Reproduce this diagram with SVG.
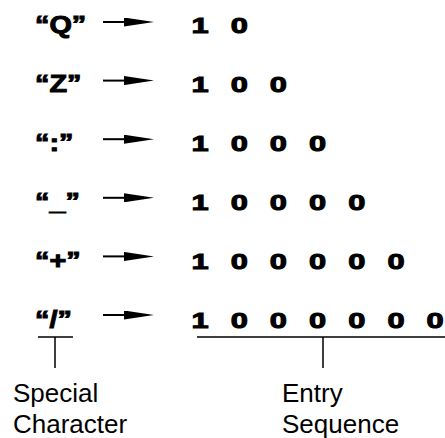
<svg xmlns="http://www.w3.org/2000/svg" width="445" height="438" viewBox="0 0 445 438">
<style>
.b{font-family:"Liberation Sans",Arial,sans-serif;font-weight:bold;font-size:22px;fill:#000;stroke:#000;stroke-width:1}
.q{font-size:24px}
.d{text-anchor:middle}
.cap{font-family:"Liberation Sans",Arial,sans-serif;font-size:26px;fill:#000}
.arr{stroke:#000;stroke-width:2;fill:none;marker-end:url(#ah)}
.ln{stroke:#000;stroke-width:1.5;fill:none}
</style>
<defs>
<marker id="ah" markerUnits="userSpaceOnUse" markerWidth="30" markerHeight="9" refX="6" refY="4.5" orient="auto">
<path d="M0,0 L30,4.5 L0,9 Z" fill="#000"/>
</marker>
</defs>
<rect width="445" height="438" fill="#fff"/>
<g id="row1">
<g transform="translate(35,33) scale(1.2,1)"><text class="b q" x="0" y="0">&#8220;Q&#8221;</text></g>
<g transform="translate(0,33) scale(1.4,1)"><text class="b d" x="142.86 170.86" y="0">10</text></g>
</g>
<g id="row2">
<g transform="translate(35,92) scale(1.2,1)"><text class="b q" x="0" y="0">&#8220;Z&#8221;</text></g>
<g transform="translate(0,92) scale(1.4,1)"><text class="b d" x="142.86 170.86 198.86" y="0">100</text></g>
</g>
<g id="row3">
<g transform="translate(35,151) scale(1.2,1)"><text class="b q" x="0" y="0">&#8220;:&#8221;</text></g>
<g transform="translate(0,151) scale(1.4,1)"><text class="b d" x="142.86 170.86 198.86 226.86" y="0">1000</text></g>
</g>
<g id="row4">
<g transform="translate(35,210) scale(1.2,1)"><text class="b q" x="0" y="0">&#8220;_&#8221;</text></g>
<g transform="translate(0,210) scale(1.4,1)"><text class="b d" x="142.86 170.86 198.86 226.86 254.86" y="0">10000</text></g>
</g>
<g id="row5">
<g transform="translate(35,269) scale(1.2,1)"><text class="b q" x="0" y="0">&#8220;+&#8221;</text></g>
<g transform="translate(0,269) scale(1.4,1)"><text class="b d" x="142.86 170.86 198.86 226.86 254.86 282.86" y="0">100000</text></g>
</g>
<g id="row6">
<g transform="translate(35,328) scale(1.2,1)"><text class="b q" x="0" y="0">&#8220;/&#8221;</text></g>
<g transform="translate(0,328) scale(1.4,1)"><text class="b d" x="142.86 170.86 198.86 226.86 254.86 282.86 310.86" y="0">1000000</text></g>
</g>
<g id="connectors">
<line class="arr" x1="103" y1="22" x2="130" y2="22"/>
<line class="arr" x1="103" y1="80.6" x2="130" y2="80.6"/>
<line class="arr" x1="103" y1="139.2" x2="130" y2="139.2"/>
<line class="arr" x1="103" y1="197.8" x2="130" y2="197.8"/>
<line class="arr" x1="103" y1="256.4" x2="130" y2="256.4"/>
<line class="arr" x1="103" y1="315" x2="130" y2="315"/>
<path class="ln" d="M38,337 H73 M55,337 V368"/>
<path class="ln" d="M197,337 H445 M323,337 V368"/>
</g>
<g id="special-character">
<text class="cap" x="13" y="402">Special</text>
<text class="cap" x="13" y="433">Character</text>
</g>
<g id="entry-sequence">
<text class="cap" x="282" y="402">Entry</text>
<text class="cap" x="282" y="433">Sequence</text>
</g>
</svg>
